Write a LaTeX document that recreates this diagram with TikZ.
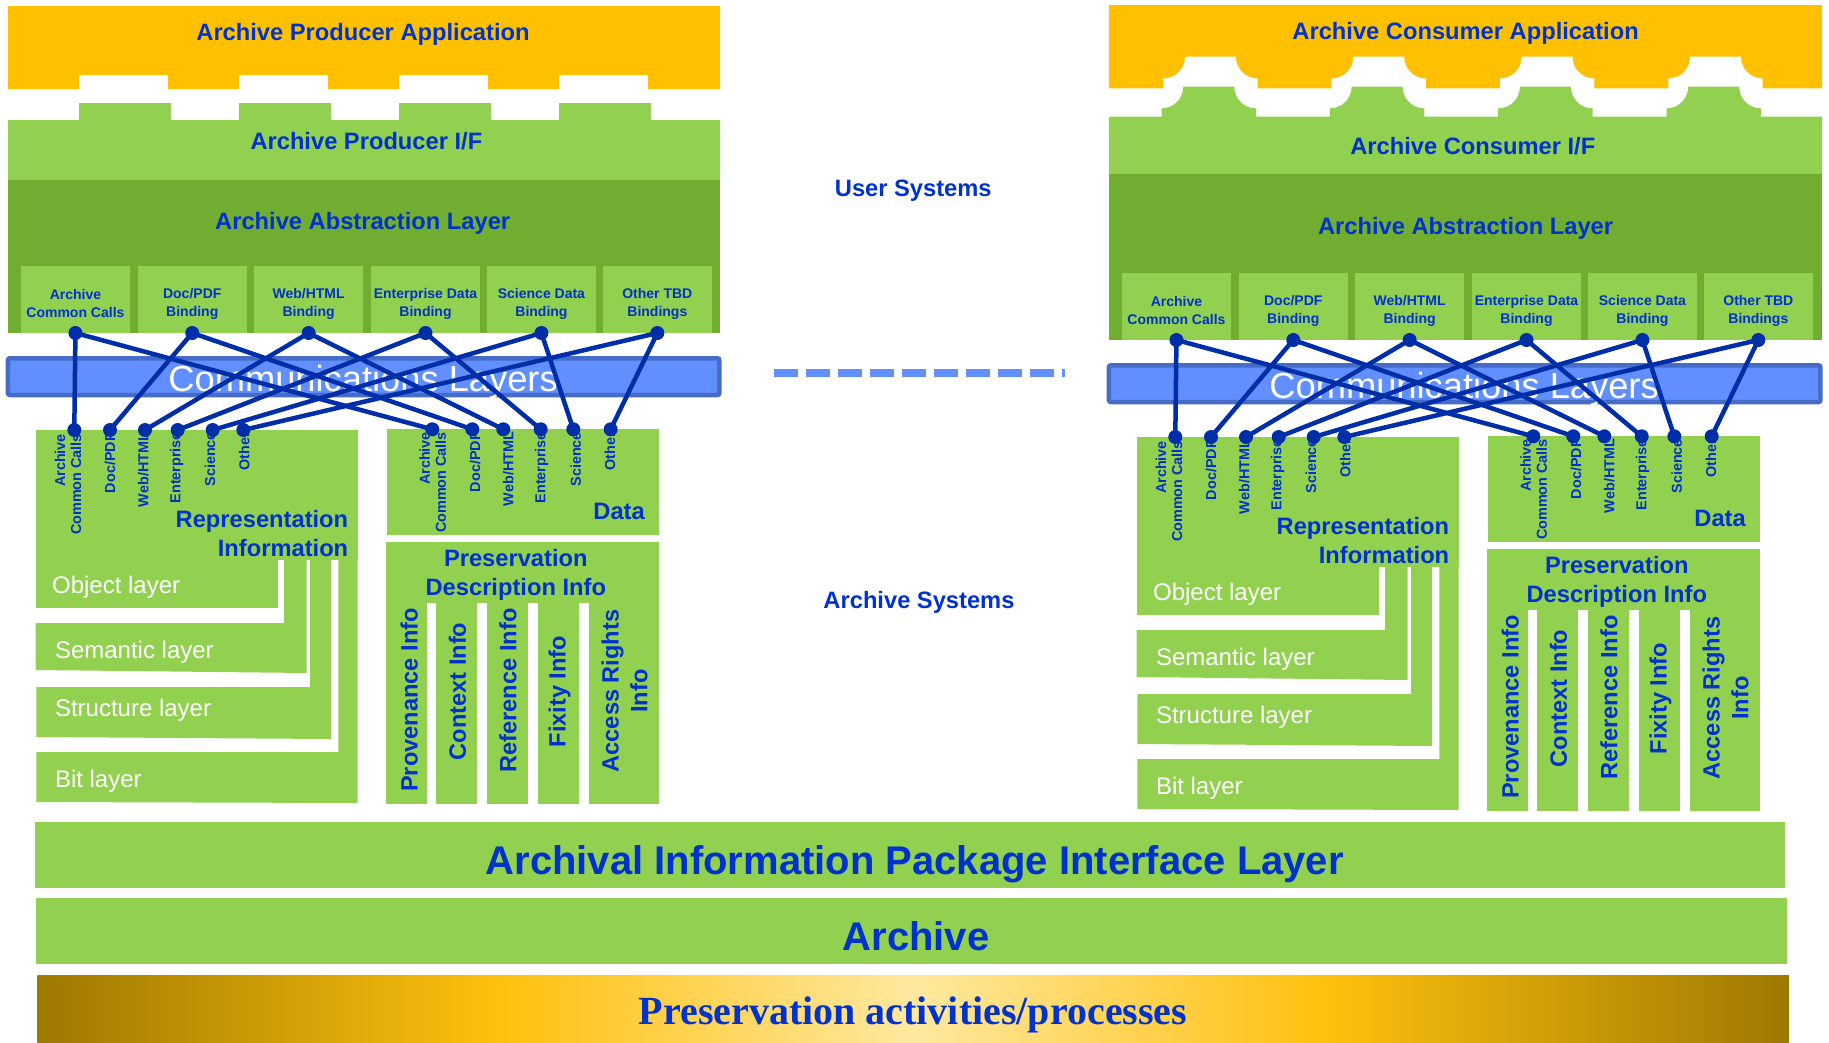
\documentclass[tikz,border=0pt]{standalone}
\usepackage{fontspec}
\setmainfont{Liberation Sans}
\newfontfamily\titleserif{Liberation Serif}

\definecolor{appyellow}{RGB}{255,192,0}
\definecolor{lgreen}{RGB}{146,208,80}
\definecolor{dgreen}{RGB}{112,173,48}
\definecolor{txtblue}{RGB}{0,51,204}
\definecolor{wire}{RGB}{0,46,168}
\definecolor{commfill}{RGB}{97,143,255}
\definecolor{commedge}{RGB}{70,108,200}
\definecolor{goldA}{RGB}{158,120,0}
\definecolor{goldB}{RGB}{255,193,14}
\definecolor{goldC}{RGB}{255,232,160}

% gold band: 25bp and 75bp are the left and right edges of the filled path
\pgfdeclarehorizontalshading{goldband}{100bp}{color(0bp)=(goldA); color(25bp)=(goldA);
  color(38.25bp)=(goldB); color(50bp)=(goldC); color(61.75bp)=(goldB);
  color(75bp)=(goldA); color(100bp)=(goldA)}

\tikzset{
  bigtitle/.style={font=\fontsize{23.7}{28}\selectfont\bfseries, text=txtblue},
  hugetitle/.style={font=\fontsize{40}{46}\selectfont\bfseries, text=txtblue, anchor=base},
  bindbox/.style={fill=lgreen, minimum width=108.9pt, minimum height=67pt},
  bindtxt/.style={font=\fontsize{14}{17.4}\selectfont\bfseries, text=txtblue, align=center},
  tag/.style={font=\fontsize{14.4}{15.9}\selectfont\bfseries, text=txtblue, rotate=90, anchor=east, align=right},
  layertxt/.style={font=\fontsize{24}{28}\selectfont, text=white, anchor=base west},
  coltxt/.style={font=\fontsize{23.6}{28.7}\selectfont\bfseries, text=txtblue, rotate=90, align=center},
  dot/.style={circle, fill=wire, minimum size=14pt},
  wireline/.style={draw=wire, line width=4.5pt},
  commbar/.style={fill=commfill, draw=commedge, line width=4.5pt, rounded corners=2pt,
    minimum width=711.4pt, minimum height=36.8pt},
}

% bindings, communications bar, representation / data / preservation blocks of one side
\newcommand\archpanel[1]{%
  % binding boxes
  \node[bindbox] (#1b1) at (75.45,299.5) {};
  \node[bindbox] (#1b2) at (192.25,299.5) {};
  \node[bindbox] (#1b3) at (308.65,299.5) {};
  \node[bindbox] (#1b4) at (425.5,299.5) {};
  \node[bindbox] (#1b5) at (541.45,299.5) {};
  \node[bindbox] (#1b6) at (657.35,299.5) {};
  \node[bindtxt] (#1bt1) at (75.45,303.3) {Archive\\Common Calls};
  \node[bindtxt] (#1bt2) at (192.25,303.8) {Doc/PDF\\Binding};
  \node[bindtxt] (#1bt3) at (308.65,303.8) {Web/HTML\\Binding};
  \node[bindtxt] (#1bt4) at (425.5,303.8) {Enterprise Data\\Binding};
  \node[bindtxt] (#1bt5) at (541.45,303.8) {Science Data\\Binding};
  \node[bindtxt] (#1bt6) at (657.35,303.8) {Other TBD\\Bindings};
  % representation information and its nested layers
  \fill[lgreen] (36.3,430) rectangle (357.5,560);
  \fill[lgreen] (36.3,559.5) rectangle (278.3,608);
  \fill[lgreen] (35.6,623) -- (284,623) -- (284,559.5) -- (306.7,559.5) -- (306.7,673) -- (35.6,670) -- cycle;
  \fill[lgreen] (36.3,687) -- (310,687) -- (310,559.5) -- (331,559.5) -- (331,739) -- (36.3,737) -- cycle;
  \fill[lgreen] (36.3,752) -- (338.3,752) -- (338.3,559.5) -- (357.5,559.5) -- (357.5,803) -- (36.3,802) -- cycle;
  \node[bigtitle, anchor=base east] (#1rep1) at (348.2,527) {Representation};
  \node[bigtitle, anchor=base east] (#1rep2) at (348.2,556.7) {Information};
  \node[layertxt] (#1lay1) at (52.1,593.3) {Object layer};
  \node[layertxt] (#1lay2) at (55,658) {Semantic layer};
  \node[layertxt] (#1lay3) at (55,716.7) {Structure layer};
  \node[layertxt] (#1lay4) at (55,787) {Bit layer};
  % data block
  \fill[lgreen] (387.3,429.3) rectangle (659,535);
  \node[bigtitle, anchor=base east] (#1data) at (644.8,519.3) {Data};
  % preservation description info block
  \fill[lgreen] (386.4,541.7) rectangle (658.8,602.5);
  \fill[lgreen] (386.4,602) rectangle (427.4,804.3);
  \fill[lgreen] (436.2,602) rectangle (477.2,804.3);
  \fill[lgreen] (487,602) rectangle (527.5,803.5);
  \fill[lgreen] (538.2,602) rectangle (578.7,804);
  \fill[lgreen] (589,602) rectangle (658.8,803.5);
  \node[bigtitle, anchor=base] (#1pdi1) at (515.8,566) {Preservation};
  \node[bigtitle, anchor=base] (#1pdi2) at (515.8,595) {Description Info};
  \node[coltxt] (#1col1) at (409.2,700) {Provenance Info};
  \node[coltxt] (#1col2) at (457.4,691.5) {Context Info};
  \node[coltxt] (#1col3) at (507.9,690.5) {Reference Info};
  \node[coltxt] (#1col4) at (559.5,691.5) {Fixity Info};
  \node[coltxt] (#1col5) at (624.5,691) {Access Rights\\Info};
  % rotated binding tags
  \node[tag] (#1rt1) at (68,434) {Archive\\Common Calls};
  \node[tag] (#1rt2) at (110,433) {Doc/PDF};
  \node[tag] (#1rt3) at (143.3,433) {Web/HTML};
  \node[tag] (#1rt4) at (176.7,432) {Enterprise};
  \node[tag] (#1rt5) at (210,432) {Science};
  \node[tag] (#1rt6) at (244.3,432) {Other};
  \node[tag] (#1dt1) at (432.7,432) {Archive\\Common Calls};
  \node[tag] (#1dt2) at (475,432) {Doc/PDF};
  \node[tag] (#1dt3) at (508.3,432) {Web/HTML};
  \node[tag] (#1dt4) at (541.7,432) {Enterprise};
  \node[tag] (#1dt5) at (575.7,432) {Science};
  \node[tag] (#1dt6) at (610,432) {Other};
  % communications bar
  \node[commbar] (#1comm) at (363.65,376.65) {};
  \node[font=\fontsize{36.3}{40}\selectfont, text=white, anchor=base] (#1commtxt) at (363.1,391.7) {Communications Layers};
  % wire end points
  \coordinate (#1r1) at (74.3,430);
  \coordinate (#1r2) at (110,430);
  \coordinate (#1r3) at (145,430);
  \coordinate (#1r4) at (177.7,430);
  \coordinate (#1r5) at (212.7,430);
  \coordinate (#1r6) at (243.3,430);
  \coordinate (#1d1) at (432.3,429.3);
  \coordinate (#1d2) at (472.3,429.3);
  \coordinate (#1d3) at (503.3,429.3);
  \coordinate (#1d4) at (540.7,429.3);
  \coordinate (#1d5) at (573.3,429.3);
  \coordinate (#1d6) at (610.7,429.3);
  \foreach \i in {1,...,6} {
    \draw[wireline] (#1b\i.south) -- (#1r\i);
    \draw[wireline] (#1b\i.south) -- (#1d\i);
  }
  \foreach \i in {1,...,6} {
    \node[dot] (#1tb\i) at (#1b\i.south) {};
    \node[dot] (#1rd\i) at (#1r\i) {};
    \node[dot] (#1dd\i) at (#1d\i) {};
  }
}

\begin{document}
\begin{tikzpicture}[x=1pt, y=-1pt, every node/.append style={inner sep=0pt, outer sep=0pt}]
\useasboundingbox (0,0) rectangle (1829,1042);
\fill[white] (0,0) rectangle (1829,1042);

% ---------- producer side, upper layers ----------
\fill[appyellow] (7.9,6) -- (720,6) -- (720,89) -- (648,89) -- (648,75) -- (559.1,75) -- (559.1,89)
  -- (487.9,89) -- (487.9,75) -- (399,75) -- (399,89) -- (328.2,89) -- (328.2,75) -- (238.8,75)
  -- (238.8,89) -- (168,89) -- (168,75) -- (79.1,75) -- (79.1,89) -- (7.9,89) -- cycle;
\fill[lgreen] (7.9,180) -- (7.9,120) -- (79.1,120) -- (79.1,103) -- (170.9,103) -- (170.9,120)
  -- (238.8,120) -- (238.8,103) -- (331,103) -- (331,120) -- (399,120) -- (399,103) -- (491.1,103)
  -- (491.1,120) -- (559.1,120) -- (559.1,103) -- (650.8,103) -- (650.8,120) -- (720,120) -- (720,180) -- cycle;
\fill[dgreen] (7.9,180) rectangle (720,333);
\node[bigtitle, anchor=base] (prodapp) at (363,40.7) {Archive Producer Application};
\node[bigtitle, anchor=base] (prodif) at (366.4,149.3) {Archive Producer I/F};
\node[bigtitle, anchor=base] (prodabs) at (362.7,229.3) {Archive Abstraction Layer};

% ---------- consumer side, upper layers ----------
\fill[appyellow] (1822,5) -- (1108.8,5) -- (1108.8,88.3)
  \foreach \g in {1185,1353.3,1521.6,1690} {
    -- ({\g-21.7},88.3) -- ({\g-21.7},78.4)
    .. controls ({\g-9.7},78.4) and (\g,68.7) .. (\g,56.7)
    -- ({\g+51},56.7)
    .. controls ({\g+51},68.7) and ({\g+60.7},78.4) .. ({\g+72.7},78.4)
    -- ({\g+72.7},88.3)
  }
  -- (1822,88.3) -- cycle;
\fill[lgreen] (1108.8,174) -- (1108.8,116.7)
  \foreach \b in {1183.3,1351.6,1519.9,1688.2} {
    -- ({\b-21.7},116.7) -- ({\b-21.7},108.4)
    .. controls ({\b-9.7},108.4) and (\b,98.7) .. (\b,86.7)
    -- ({\b+51},86.7)
    .. controls ({\b+51},98.7) and ({\b+60.7},108.4) .. ({\b+72.7},108.4)
    -- ({\b+72.7},116.7)
  }
  -- (1822,116.7) -- (1822,174) -- cycle;
\fill[dgreen] (1108.8,174) rectangle (1822,340);
\node[bigtitle, anchor=base] (consapp) at (1465.6,39.3) {Archive Consumer Application};
\node[bigtitle, anchor=base] (consif) at (1472.8,154) {Archive Consumer I/F};
\node[bigtitle, anchor=base] (consabs) at (1465.6,234) {Archive Abstraction Layer};

% ---------- both sides, lower blocks ----------
\archpanel{L}
\begin{scope}[shift={(1101,7)}]
  \archpanel{R}
\end{scope}

% ---------- centre ----------
\node[bigtitle, anchor=base] (usersys) at (913.3,196.7) {User Systems};
\node[bigtitle, anchor=base] (archsys) at (919,608.3) {Archive Systems};
\coordinate (dashL) at (774,373.3);
\coordinate (dashR) at (1065,373.3);
\draw[commfill, line width=8pt, dash pattern=on 24pt off 8pt] (dashL) -- (dashR);

% ---------- shared archive layers ----------
\fill[lgreen] (35,822) rectangle (1785,887.7);
\node[hugetitle] (aip) at (914.8,874) {Archival Information Package Interface Layer};
\fill[lgreen] (36.2,898) rectangle (1786.5,963.7);
\node[hugetitle] (archive) at (916,950) {Archive};
\shade[shading=goldband] (37.3,975) rectangle (1788.8,1042);
\node[font=\titleserif\bfseries\fontsize{40}{46}\selectfont, text=txtblue, anchor=base] (presact) at (913,1024) {Preservation activities/processes};
\end{tikzpicture}
\end{document}
